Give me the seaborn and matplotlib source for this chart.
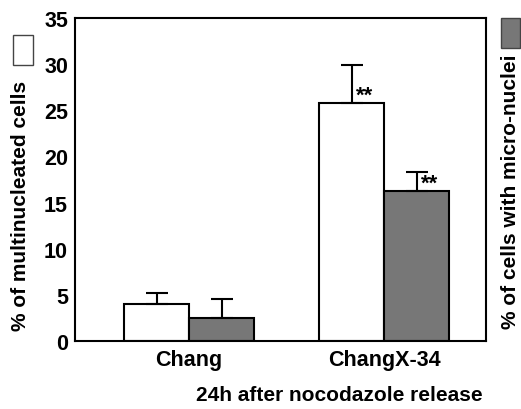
import matplotlib
matplotlib.use("Agg")
import matplotlib.pyplot as plt
from matplotlib.patches import Rectangle
import seaborn as sns
import pandas as pd
import numpy as np

groups = ["Chang", "ChangX-34"]
measures = ["multinucleated", "micronuclei"]
multinucleated = [4.0, 25.8]
multinucleated_err = [1.2, 4.1]
micronuclei = [2.45, 16.3]
micronuclei_err = [2.15, 2.0]
significance_multi = ["", "**"]
significance_micro = ["", "**"]
yticks = [0, 5, 10, 15, 20, 25, 30, 35]

sns.set_style("white")
plt.rcParams["font.family"] = ["Liberation Sans", "DejaVu Sans"]
plt.rcParams["text.color"] = "black"
plt.rcParams["xtick.color"] = "black"
plt.rcParams["ytick.color"] = "black"

df = pd.DataFrame({
    "group": groups * 2,
    "measure": [measures[0]] * 2 + [measures[1]] * 2,
    "value": multinucleated + micronuclei,
})

fig = plt.figure(figsize=(5.21, 4.10), dpi=100)
ax = fig.add_axes([75 / 521, 1 - 342 / 410, (486 - 75) / 521, (342 - 19) / 410])

sns.barplot(data=df, x="group", y="value", hue="measure", hue_order=measures,
            order=groups, palette=["white", "#777777"], edgecolor="black",
            linewidth=1.5, width=0.667, gap=0, errorbar=None, legend=False, ax=ax)

errs = multinucleated_err + micronuclei_err
stars = significance_multi + significance_micro
vals = multinucleated + micronuclei
bars = [p for p in ax.patches if p.get_height() > 0]
for p, e, s, v in zip(bars, errs, stars, vals):
    cx = p.get_x() + p.get_width() / 2
    ax.errorbar([cx], [v], yerr=[[0], [e]], fmt="none", ecolor="black",
                elinewidth=1.5, capsize=8, capthick=1.5, zorder=1)
    if s:
        ax.annotate(s, xy=(cx, v), xytext=(3, -2), textcoords="offset points",
                    ha="left", va="bottom", fontsize=16, fontweight="bold",
                    color="black")

ax.set_xlim(-0.585, 1.523)
ax.set_ylim(0, 35)
ax.set_yticks(yticks)
ax.set_yticklabels([str(t) for t in yticks], fontsize=15.5, fontweight="bold")
ax.set_xticks(range(len(groups)))
ax.set_xticklabels(groups, fontsize=15.5, fontweight="bold")
ax.tick_params(axis="both", length=0, colors="black")
ax.tick_params(axis="y", pad=5)
ax.tick_params(axis="x", pad=6)
ax.set_xlabel("")
ax.set_ylabel("")
for sp in ax.spines.values():
    sp.set_visible(True)
    sp.set_linewidth(1.5)
    sp.set_color("black")

fig.text(21 / 521, 1 - 206 / 410, "% of multinucleated cells", rotation=90,
         ha="center", va="center", fontsize=15, fontweight="bold", color="black")
fig.text(511 / 521, 1 - 192 / 410, "% of cells with micro-nuclei", rotation=90,
         ha="center", va="center", fontsize=15, fontweight="bold", color="black")
fig.text(339 / 521, 1 - 396 / 410, "24h after nocodazole release",
         ha="center", va="center", fontsize=15, fontweight="bold", color="black")

fig.patches.append(Rectangle((13 / 521, 1 - 66 / 410), 20 / 521, 30 / 410,
                             transform=fig.transFigure, facecolor="white",
                             edgecolor="#444444", linewidth=1))
fig.patches.append(Rectangle((501 / 521, 1 - 49 / 410), 19 / 521, 30 / 410,
                             transform=fig.transFigure, facecolor="#777777",
                             edgecolor="#444444", linewidth=1))

fig.savefig("out.png", dpi=100)
